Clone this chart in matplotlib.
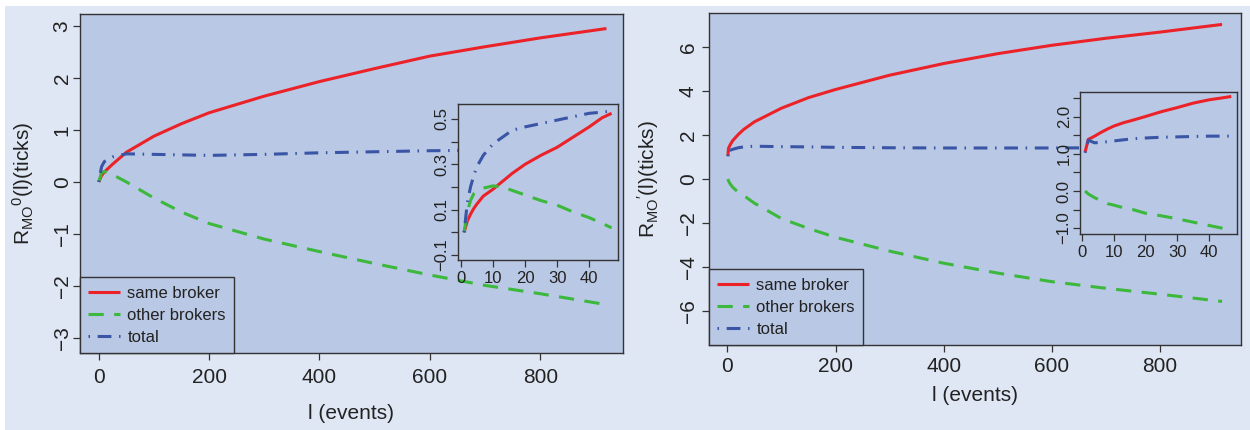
import matplotlib
matplotlib.use("Agg")
import matplotlib.pyplot as plt
from matplotlib.patches import Rectangle

plt.rcParams.update({
    "font.family": ["Liberation Sans", "DejaVu Sans"],
    "mathtext.default": "regular",
    "axes.unicode_minus": True,
})

# ------------------ DATA ------------------ #
# left panel, main
l_left = [0, 5, 10, 25, 50, 100, 150, 200, 300, 400, 500, 600, 700, 800, 920]
same_left = [0, 0.12, 0.19, 0.34, 0.57, 0.88, 1.12, 1.33, 1.65, 1.93, 2.18, 2.42, 2.6, 2.77, 2.95]
other_left = [0, 0.18, 0.2, 0.14, 0.0, -0.31, -0.58, -0.8, -1.1, -1.34, -1.57, -1.79, -1.99, -2.15, -2.36]
total_left = [0, 0.29, 0.39, 0.48, 0.54, 0.53, 0.52, 0.51, 0.53, 0.56, 0.58, 0.6, 0.61, 0.62, 0.6]

# left panel, inset
l_in_left = [1, 2, 3, 4, 5, 7, 10, 13, 16, 20, 25, 30, 35, 40, 44, 47]
same_in_left = [0.0, 0.05, 0.08, 0.105, 0.125, 0.16, 0.19, 0.225, 0.26, 0.3, 0.34, 0.375, 0.42, 0.465, 0.505, 0.525]
other_in_left = [0.0, 0.09, 0.14, 0.17, 0.18, 0.195, 0.205, 0.2, 0.185, 0.165, 0.14, 0.12, 0.09, 0.065, 0.04, 0.02]
total_in_left = [0.0, 0.13, 0.2, 0.25, 0.29, 0.34, 0.39, 0.42, 0.45, 0.465, 0.48, 0.495, 0.51, 0.525, 0.53, 0.535]

# right panel, main
l_right = [1, 2, 5, 10, 20, 30, 50, 100, 150, 200, 300, 400, 500, 600, 700, 800, 915]
same_right = [1.05, 1.39, 1.55, 1.75, 2.02, 2.25, 2.6, 3.22, 3.7, 4.07, 4.72, 5.25, 5.7, 6.08, 6.4, 6.68, 7.03]
other_right = [0.0, -0.08, -0.22, -0.38, -0.6, -0.75, -1.1, -1.8, -2.25, -2.65, -3.28, -3.83, -4.28, -4.67, -4.97, -5.24, -5.57]
total_right = [1.03, 1.37, 1.31, 1.35, 1.42, 1.46, 1.49, 1.47, 1.46, 1.44, 1.42, 1.41, 1.41, 1.41, 1.42, 1.43, 1.45]

# right panel, inset
l_in_right = [1, 2, 4, 6, 8, 10, 13, 16, 20, 25, 30, 35, 40, 44, 47]
same_in_right = [1.05, 1.39, 1.48, 1.58, 1.67, 1.75, 1.84, 1.91, 2.01, 2.14, 2.25, 2.37, 2.46, 2.51, 2.55]
other_in_right = [0.0, -0.08, -0.18, -0.26, -0.34, -0.38, -0.45, -0.5, -0.6, -0.67, -0.75, -0.84, -0.93, -1.0, -1.07]
total_in_right = [1.03, 1.37, 1.30, 1.31, 1.33, 1.35, 1.38, 1.41, 1.43, 1.45, 1.46, 1.47, 1.48, 1.48, 1.48]

labels = ["same broker", "other brokers", "total"]

# ------------------ STYLE ------------------ #
FIG_BG = "#e0e7f4"
AX_BG = "#b9c8e4"
EDGE = "#333333"
TXT = "#222222"
RED = "#ec2229"
GREEN = "#3cb83c"
BLUE = "#3a55a5"
LW = 2.2
GREEN_LS = (0, (5, 3.4))
BLUE_LS = (0, (0.5, 2.5, 4.5, 2.5))
M = "\u2212"


def style_axes(ax, tick_size):
    ax.set_facecolor(AX_BG)
    for s in ax.spines.values():
        s.set_color(EDGE)
        s.set_linewidth(1.0)
    ax.tick_params(colors=EDGE, labelcolor=TXT, labelsize=tick_size,
                   length=5, width=0.9)
    ax.tick_params(axis="y", labelrotation=90)
    for t in ax.get_yticklabels():
        t.set_va("center")


def draw_lines(ax, l, same, other, total):
    ax.plot(l, same, color=RED, lw=LW, solid_capstyle="butt")
    ax.plot(l, other, color=GREEN, lw=LW, linestyle=GREEN_LS)
    ax.plot(l, total, color=BLUE, lw=LW, linestyle=BLUE_LS)


def add_legend(ax):
    leg = ax.legend(labels, loc="lower left", bbox_to_anchor=(0, 0), borderaxespad=0,
                    fontsize=12, handlelength=1.9, handletextpad=0.45,
                    labelspacing=0.42, fancybox=False, framealpha=1,
                    facecolor=AX_BG, edgecolor=EDGE, borderpad=0.5)
    leg.get_frame().set_linewidth(1.0)
    for t in leg.get_texts():
        t.set_color(TXT)


fig = plt.figure(figsize=(12.5, 4.3), dpi=100)
fig.patch.set_facecolor("white")
fig.patches.append(Rectangle((5 / 1250, 0), 1 - 5 / 1250, 1 - 6 / 430,
                             transform=fig.transFigure, facecolor=FIG_BG,
                             edgecolor="none", zorder=-10))

# ------------------ LEFT PANEL ------------------ #
ax1 = fig.add_axes([0.064, 0.1791, 0.4344, 0.7884])
draw_lines(ax1, l_left, same_left, other_left, total_left)
ax1.set_xlim(-34, 950)
ax1.set_ylim(-3.29, 3.23)
ax1.set_xticks([0, 200, 400, 600, 800])
ax1.set_yticks([-3, -2, -1, 0, 1, 2, 3])
style_axes(ax1, 15)
ax1.tick_params(axis="x", pad=6)
ax1.tick_params(axis="y", pad=1)
ax1.set_xlabel("l (events)", fontsize=15, color=TXT)
ax1.set_ylabel(r"$R_{MO}{}^{0}(l)(ticks)$", fontsize=15, color=TXT)
ax1.yaxis.set_label_coords(-0.081, 0.5)
ax1.xaxis.set_label_coords(0.5, -0.15)
add_legend(ax1)

ins1 = fig.add_axes([0.3664, 0.3953, 0.128, 0.3628])
draw_lines(ins1, l_in_left, same_in_left, other_in_left, total_in_left)
ins1.set_xlim(-0.9, 49)
ins1.set_ylim(-0.122, 0.566)
ins1.set_xticks([0, 10, 20, 30, 40])
ins1.set_yticks([-0.1, 0.0, 0.1, 0.2, 0.3, 0.4, 0.5])
ins1.set_yticklabels([M + "0.1", "", "0.1", "", "0.3", "", "0.5"])
style_axes(ins1, 12)
ins1.tick_params(axis="x", pad=3)
ins1.tick_params(axis="y", pad=1)

# ------------------ RIGHT PANEL ------------------ #
ax2 = fig.add_axes([0.5672, 0.1977, 0.4256, 0.7721])
draw_lines(ax2, l_right, same_right, other_right, total_right)
ax2.set_xlim(-34, 950)
ax2.set_ylim(-7.55, 7.55)
ax2.set_xticks([0, 200, 400, 600, 800])
ax2.set_yticks([-6, -4, -2, 0, 2, 4, 6])
style_axes(ax2, 15)
ax2.tick_params(axis="x", pad=4)
ax2.tick_params(axis="y", pad=3)
ax2.set_xlabel("l (events)", fontsize=15, color=TXT)
ax2.set_ylabel(r"$R_{MO}{}^{\prime}(l)(ticks)$", fontsize=15, color=TXT)
ax2.yaxis.set_label_coords(-0.09, 0.5)
ax2.xaxis.set_label_coords(0.5, -0.123)
add_legend(ax2)

ins2 = fig.add_axes([0.864, 0.4558, 0.1256, 0.3302])
draw_lines(ins2, l_in_right, same_in_right, other_in_right, total_in_right)
ins2.set_xlim(-0.6, 48.8)
ins2.set_ylim(-1.16, 2.67)
ins2.set_xticks([0, 10, 20, 30, 40])
ins2.set_yticks([-1.0, -0.5, 0.0, 0.5, 1.0, 1.5, 2.0, 2.5])
ins2.set_yticklabels([M + "1.0", "", "0.0", "", "1.0", "", "2.0", ""])
style_axes(ins2, 12)
ins2.tick_params(axis="x", pad=3)
ins2.tick_params(axis="y", pad=1)

fig.savefig("out.png", dpi=100, facecolor=fig.get_facecolor())
